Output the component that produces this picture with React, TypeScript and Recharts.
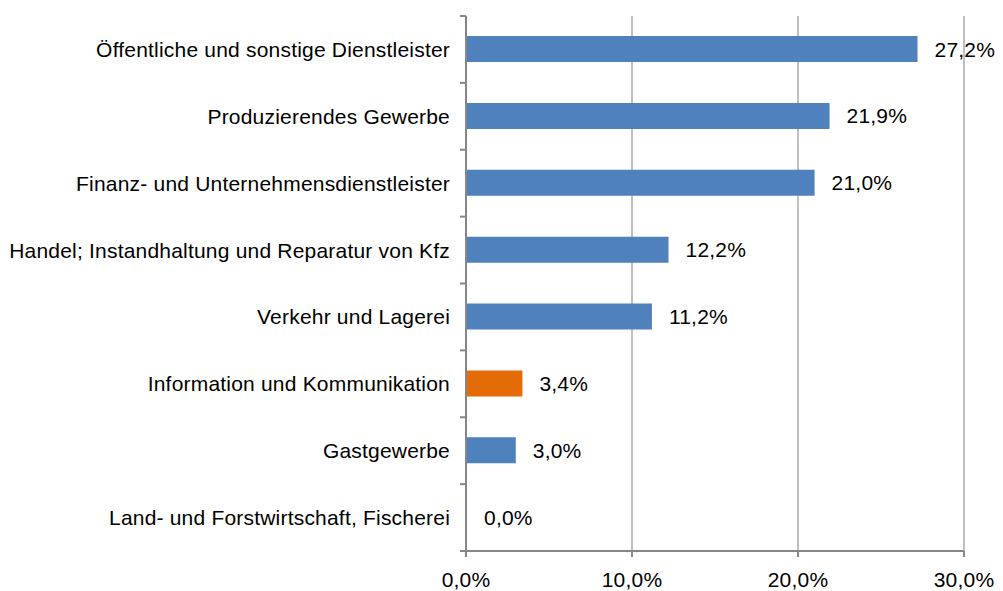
import React from 'react';
import { BarChart, Bar, XAxis, YAxis, CartesianGrid, LabelList, Cell } from 'recharts';

const categories = [
  'Öffentliche und sonstige Dienstleister',
  'Produzierendes Gewerbe',
  'Finanz- und Unternehmensdienstleister',
  'Handel; Instandhaltung und Reparatur von Kfz',
  'Verkehr und Lagerei',
  'Information und Kommunikation',
  'Gastgewerbe',
  'Land- und Forstwirtschaft, Fischerei',
];
const values = [27.2, 21.9, 21.0, 12.2, 11.2, 3.4, 3.0, 0.0];
const highlightedCategory = 'Information und Kommunikation';
const xTicks = [0, 10, 20, 30];

const data = categories.map((category, i) => ({ category, value: values[i] }));

const W = 1003;
const H = 591;
const MARGIN = { top: 16, right: 39, bottom: 0, left: 0 };
const X_AXIS_H = 40;
const Y_AXIS_W = 466;
const PLOT_H = H - MARGIN.top - MARGIN.bottom - X_AXIS_H;
const BAND = PLOT_H / categories.length;

const FONT = '"Liberation Sans", Arial, sans-serif';
const FONT_SIZE = 21;
const LETTER_SPACING = 0.2;
const AXIS_COLOR = '#868686';
const GRID_COLOR = '#BFBFBF';
const BLUE = '#4F81BD';
const ORANGE = '#E36C09';

const fmt = (v: number) => `${Number(v).toFixed(1).replace('.', ',')}%`;

const YTick = (props: any) => {
  const { y, payload, index } = props;
  const axisX = MARGIN.left + Y_AXIS_W;
  const top = y - BAND / 2;
  const bottom = y + BAND / 2;
  return (
    <g>
      <line x1={axisX - 6} x2={axisX} y1={top} y2={top} stroke={AXIS_COLOR} strokeWidth={2} />
      {index === categories.length - 1 && (
        <line x1={axisX - 6} x2={axisX} y1={bottom} y2={bottom} stroke={AXIS_COLOR} strokeWidth={2} />
      )}
      <text
        x={axisX - 16}
        y={y}
        textAnchor="end"
        dominantBaseline="central"
        fontSize={FONT_SIZE}
        letterSpacing={LETTER_SPACING}
        fontFamily={FONT}
        fill="#000"
      >
        {payload.value}
      </text>
    </g>
  );
};

const ValueLabel = (props: any) => {
  const { x, y, width, height, value } = props;
  return (
    <text
      x={Number(x) + Number(width) + 17}
      y={Number(y) + Number(height) / 2}
      textAnchor="start"
      dominantBaseline="central"
      fontSize={FONT_SIZE}
      letterSpacing={LETTER_SPACING}
      fontFamily={FONT}
      fill="#000"
    >
      {fmt(value)}
    </text>
  );
};

export default function App() {
  return (
    <div style={{ position: 'absolute', left: 0, top: 0, width: W, height: H, background: '#fff' }}>
      <BarChart width={W} height={H} data={data} layout="vertical" margin={MARGIN}>
        <CartesianGrid horizontal={false} vertical={true} stroke={GRID_COLOR} strokeWidth={2} />
        <XAxis
          type="number"
          domain={[0, 30]}
          ticks={xTicks}
          tickFormatter={fmt}
          height={X_AXIS_H}
          axisLine={{ stroke: AXIS_COLOR, strokeWidth: 2 }}
          tickLine={{ stroke: AXIS_COLOR, strokeWidth: 2 }}
          tickSize={6}
          tickMargin={15}
          tick={{ fontSize: FONT_SIZE, fontFamily: FONT, fill: '#000', letterSpacing: LETTER_SPACING }}
          interval={0}
        />
        <YAxis
          type="category"
          dataKey="category"
          width={Y_AXIS_W}
          axisLine={{ stroke: AXIS_COLOR, strokeWidth: 2 }}
          tickLine={false}
          tick={<YTick />}
          interval={0}
        />
        <Bar
          dataKey="value"
          barSize={26}
          minPointSize={(v: number) => (v === 0 ? 1 : 0)}
          isAnimationActive={false}
        >
          {data.map((d) => (
            <Cell key={d.category} fill={d.category === highlightedCategory ? ORANGE : BLUE} />
          ))}
          <LabelList dataKey="value" content={<ValueLabel />} />
        </Bar>
      </BarChart>
    </div>
  );
}
